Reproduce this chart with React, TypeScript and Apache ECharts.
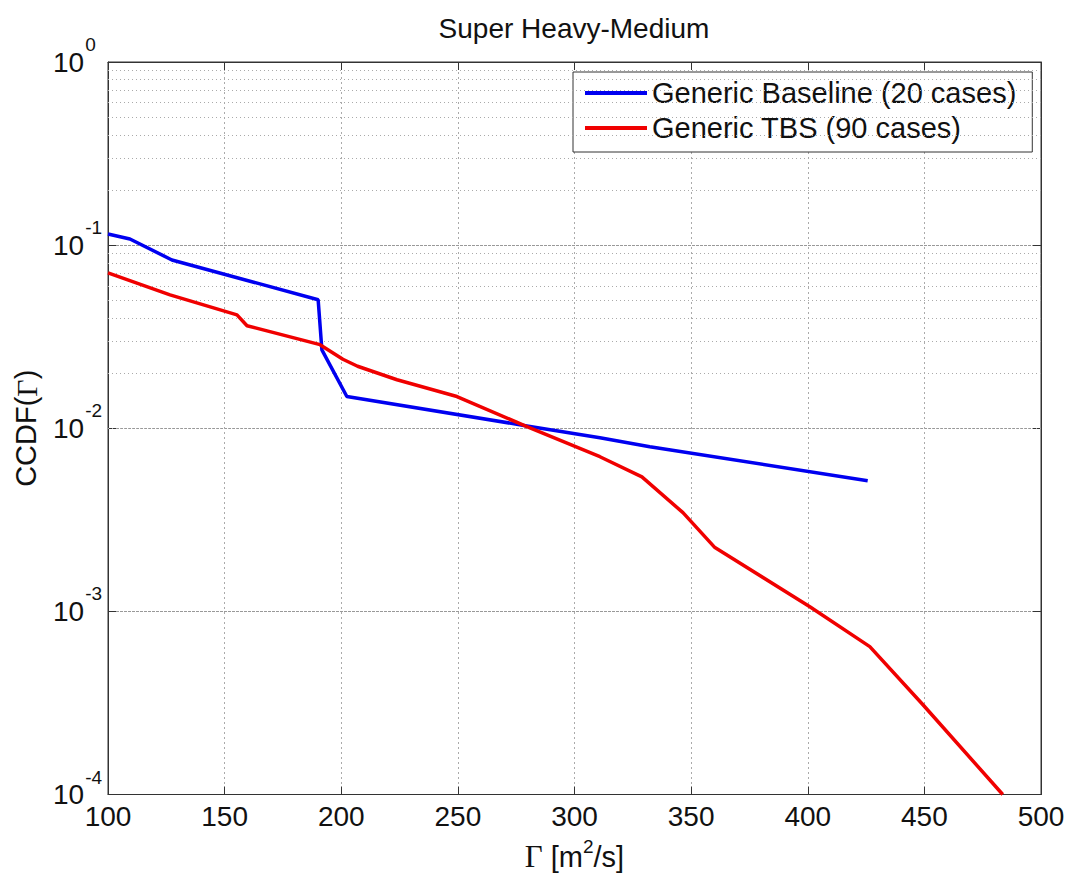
import React, { useEffect, useRef } from "react";
import * as echarts from "echarts";

const baselineGamma = [100, 109.4, 127.4, 190.1, 191.7, 202.4, 279.6, 310.9, 332.3, 425.7];
const baselineCCDF = [0.115, 0.108, 0.083, 0.0503, 0.0268, 0.0149, 0.0103, 0.00887, 0.00793, 0.00517];

const tbsGamma = [100, 126.6, 155.3, 159.6, 190.9, 200.7, 207, 223.9, 249.6, 279.6, 310.9, 328.9, 346.5, 360.2, 400.9, 426.6, 449.3, 483.6];
const tbsCCDF = [0.0706, 0.0535, 0.0416, 0.0363, 0.0286, 0.0238, 0.0218, 0.0184, 0.0149, 0.0102, 0.00699, 0.00543, 0.00346, 0.00223, 0.00106, 0.000642, 0.00031, 0.0001];

const minorLevels = [
  2e-4, 3e-4, 4e-4, 5e-4, 6e-4, 7e-4, 8e-4, 9e-4,
  2e-3, 3e-3, 4e-3, 5e-3, 6e-3, 7e-3, 8e-3, 9e-3,
  2e-2, 3e-2, 4e-2, 5e-2, 6e-2, 7e-2, 8e-2, 9e-2,
  2e-1, 3e-1, 4e-1, 5e-1, 6e-1, 7e-1, 8e-1, 9e-1,
];

const seriesNames = ["Generic Baseline (20 cases)", "Generic TBS (90 cases)"];

const SANS = "'Liberation Sans', Arial, sans-serif";
const SERIF = "'Liberation Serif', 'Times New Roman', serif";

export default function App() {
  const ref = useRef<HTMLDivElement>(null);
  useEffect(() => {
    if (!ref.current) return;
    const chart = echarts.init(ref.current, null, { renderer: "svg" });
    const pairs = (xs: number[], ys: number[]) => xs.map((x, i) => [x, ys[i]]);
    const option: any = {
      animation: false,
      backgroundColor: "#fff",
      title: {
        text: "Super Heavy-Medium",
        left: 574,
        top: 14,
        padding: 0,
        textAlign: "center",
        textStyle: { fontFamily: SANS, fontSize: 28, fontWeight: "normal", color: "#111" },
      },
      legend: {
        data: seriesNames,
        orient: "vertical",
        left: 573,
        top: 72,
        padding: [6, 16, 9, 12],
        itemGap: 5,
        itemWidth: 62,
        itemHeight: 4,
        icon: "rect",
        backgroundColor: "#fff",
        borderColor: "#333",
        borderWidth: 1,
        borderRadius: 0,
        textStyle: { fontFamily: SANS, fontSize: 29, color: "#111", lineHeight: 30 },
      },
      grid: {
        left: 108,
        right: 28,
        top: 62,
        bottom: 82,
        show: true,
        borderColor: "#333",
        borderWidth: 1,
        backgroundColor: "#fff",
      },
      xAxis: [
        {
          type: "value",
          min: 100,
          max: 500,
          interval: 50,
          position: "bottom",
          axisLine: { show: true, lineStyle: { color: "#333" } },
          axisTick: { show: true, inside: true, length: 8, lineStyle: { color: "#333" } },
          axisLabel: { fontFamily: SANS, fontSize: 28, color: "#111", margin: 8 },
          splitLine: { show: true, lineStyle: { color: "#aaa", type: [2, 3], width: 1 } },
          name: "{g|Γ}{t| [m}{s|2}{t|/s]}",
          nameLocation: "middle",
          nameGap: 42,
          nameTextStyle: {
            rich: {
              g: { fontFamily: SERIF, fontSize: 31, color: "#111", lineHeight: 40 },
              t: { fontFamily: SANS, fontSize: 29, color: "#111", lineHeight: 40 },
              s: { fontFamily: SANS, fontSize: 19, color: "#111", lineHeight: 19, verticalAlign: "top" },
            },
          },
        },
        {
          type: "value",
          min: 100,
          max: 500,
          interval: 50,
          position: "top",
          axisLine: { show: true, lineStyle: { color: "#333" } },
          axisTick: { show: true, inside: true, length: 8, lineStyle: { color: "#333" } },
          axisLabel: { show: false },
          splitLine: { show: false },
        },
      ],
      yAxis: [
        {
          type: "log",
          logBase: 10,
          min: 1e-4,
          max: 1,
          position: "left",
          axisLine: { show: true, lineStyle: { color: "#333" } },
          axisTick: { show: true, inside: true, length: 8, lineStyle: { color: "#333" } },
          axisLabel: {
            align: "left",
            margin: 55,
            formatter: (v: number) => {
              const e = Math.round(Math.log10(v));
              return "{b|10}{s|" + e + "}";
            },
            rich: {
              b: { fontFamily: SANS, fontSize: 28, color: "#111", lineHeight: 54 },
              s: { fontFamily: SANS, fontSize: 19, color: "#111", lineHeight: 19, verticalAlign: "top", padding: [0, 0, 0, 1] },
            },
          },
          splitLine: { show: true, lineStyle: { color: "#999", type: [3, 1], width: 1 } },
          name: "{t|CCDF(}{g|Γ}{t|)}",
          nameLocation: "middle",
          nameGap: 67,
          nameTextStyle: {
            rich: {
              t: { fontFamily: SANS, fontSize: 29, color: "#111" },
              g: { fontFamily: SERIF, fontSize: 30, color: "#111" },
            },
          },
        },
        {
          type: "log",
          logBase: 10,
          min: 1e-4,
          max: 1,
          position: "right",
          axisLine: { show: true, lineStyle: { color: "#333" } },
          axisTick: { show: true, inside: true, length: 8, lineStyle: { color: "#333" } },
          axisLabel: { show: false },
          splitLine: { show: false },
        },
      ],
      series: [
        {
          name: "minor-grid",
          type: "line",
          data: [],
          silent: true,
          z: 1,
          markLine: {
            silent: true,
            symbol: "none",
            label: { show: false },
            lineStyle: { color: "#aaa", type: [1, 3], width: 1 },
            emphasis: { disabled: true },
            data: minorLevels.map((v) => ({ yAxis: v })),
          },
        },
        {
          name: seriesNames[0],
          type: "line",
          data: pairs(baselineGamma, baselineCCDF),
          showSymbol: false,
          symbol: "none",
          z: 10,
          lineStyle: { color: "#0000f0", width: 3.5 },
          itemStyle: { color: "#0000f0" },
        },
        {
          name: seriesNames[1],
          type: "line",
          data: pairs(tbsGamma, tbsCCDF),
          showSymbol: false,
          symbol: "none",
          z: 10,
          lineStyle: { color: "#f00000", width: 3.5 },
          itemStyle: { color: "#f00000" },
        },
      ],
    };
    chart.setOption(option);
    return () => chart.dispose();
  }, []);
  return (
    <div
      ref={ref}
      style={{ position: "absolute", left: 0, top: 0, width: 1069, height: 877 }}
    />
  );
}
